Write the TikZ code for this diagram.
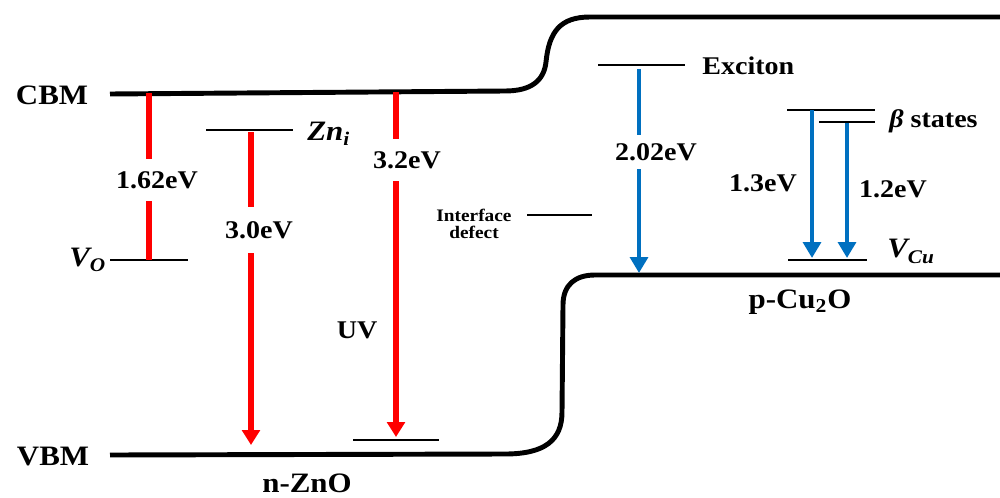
\documentclass[tikz,border=0pt]{standalone}
\usepackage{fontspec}
\setmainfont{Liberation Serif}[FakeStretch=1.1]
\usetikzlibrary{arrows.meta}
\definecolor{myred}{RGB}{255,0,0}
\definecolor{myblue}{RGB}{0,112,192}
\begin{document}
\begin{tikzpicture}[x=0.02cm,y=-0.02cm,
  band/.style={line width=2.8pt,line join=round},
  level/.style={line width=0.8pt},
  redtr/.style={draw=myred,line width=2.9pt},
  redarr/.style={redtr,-{Triangle[width=10pt,length=8.5pt]}},
  bluearr/.style={draw=myblue,line width=2.6pt,-{Triangle[width=10pt,length=9pt]}},
  lbl/.style={font=\fontsize{14.5}{16}\selectfont\bfseries,inner sep=0pt},
  biglbl/.style={font=\fontsize{16}{18}\selectfont\bfseries,inner sep=0pt},
  gaplbl/.style={lbl,fill=white,inner xsep=2pt},
  itlbl/.style={font=\fontsize{16}{18}\selectfont\bfseries\itshape,inner sep=0pt}]
\path[use as bounding box] (0,0) rectangle (1000,497);

% bands
\draw[band] (110,94) -- (505,91) .. controls (532,91) and (544,80) .. (546,62)
  .. controls (549,32) and (560,17) .. (590,17) -- (1000,17);
\draw[band] (110,455) -- (505,454) .. controls (545,454) and (562,440) .. (562,412)
  -- (563,305) .. controls (563,285) and (575,275) .. (595,275) -- (1000,275);

% coordinates
\coordinate (c1) at (149,93);
\coordinate (vo) at (149,260);
\coordinate (zni) at (251,132);
\coordinate (v2) at (251,445);
\coordinate (c3) at (396,92);
\coordinate (uvl) at (396,437);
\coordinate (ex) at (639,69);
\coordinate (vb) at (639,273);
\coordinate (b1) at (812,110);
\coordinate (vc1) at (812,258);
\coordinate (b2) at (847,123);
\coordinate (vc2) at (847,258);

% levels
\draw[level] (110,260) -- (188,260);
\draw[level] (206,130) -- (293,130);
\draw[level] (353,440) -- (439,440);
\draw[level] (527,215) -- (592,215);
\draw[level] (598,65) -- (685,65);
\draw[level] (787,110) -- (875,110);
\draw[level] (819,122) -- (875,122);
\draw[level] (788,260) -- (867,260);

% transitions
\draw[redtr] (c1) -- (vo);
\draw[redarr] (zni) -- (v2);
\draw[redarr] (c3) -- (uvl);
\draw[bluearr] (ex) -- (vb);
\draw[bluearr] (b1) -- (vc1);
\draw[bluearr] (b2) -- (vc2);

% labels
\node[biglbl] (cbm) at (52,95) {CBM};
\node[biglbl] (vbm) at (53,457) {VBM};
\node[gaplbl,inner ysep=7pt] (e162) at (157,180) {1.62eV};
\node[gaplbl,inner ysep=8pt] (e30) at (259,230) {3.0eV};
\node[gaplbl,inner ysep=7pt] (e32) at (407,160) {3.2eV};
\node[gaplbl,inner ysep=4.5pt] (e202) at (656,152) {2.02eV};
\node[lbl] (e13) at (763,183) {1.3eV};
\node[lbl] (e12) at (893,189) {1.2eV};
\node[lbl] (uv) at (357,330) {UV};
\node[biglbl] (nzno) at (307,483) {n-ZnO};
\node[biglbl] (pcu) at (800,302) {p-Cu\textsubscript{2}O};
\node[lbl,anchor=west] (exc) at (702,66) {Exciton};
\node[lbl,anchor=west] (beta) at (889,121) {\itshape β\upshape\ states};
\node[font=\fontsize{10}{11}\selectfont\bfseries,align=center,inner sep=0pt] (intf) at (474,224) {Interface\\[-1pt]defect};
\node[itlbl,anchor=base west] (vol) at (69,266) {V\raisebox{-0.45ex}{\fontsize{11}{11}\selectfont O}};
\node[itlbl,anchor=base west] (znl) at (307,140) {Zn\raisebox{-0.4ex}{\fontsize{11}{11}\selectfont i}};
\node[itlbl,anchor=base west] (vcu) at (887,257) {V\raisebox{-0.5ex}{\fontsize{11}{11}\selectfont Cu}};
\end{tikzpicture}
\end{document}
